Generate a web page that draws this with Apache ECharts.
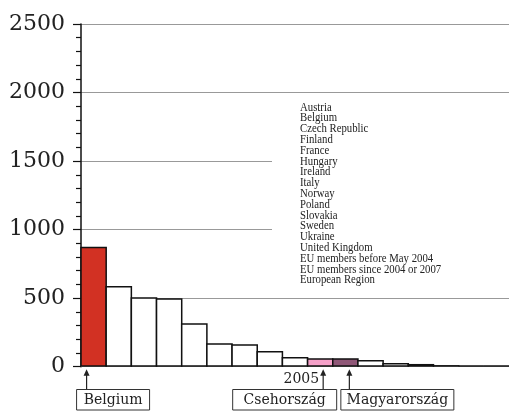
<!DOCTYPE html>
<html>
<head>
<meta charset="utf-8">
<script src="https://cdn.jsdelivr.net/npm/echarts@6/dist/echarts.min.js"></script>
<style>html,body{margin:0;padding:0;background:#fff;}#c{width:509px;height:411px;}</style>
</head>
<body>
<div id="c"></div>
<script>
// Bars in the order shown (sorted by value)
var categories = ['Belgium', 'Austria', 'France', 'Ireland', 'EU members before May 2004',
  'European Region', 'Finland', 'Sweden', 'Italy', 'Czech Republic', 'Hungary',
  'EU members since 2004 or 2007', 'Slovakia', 'Poland', 'United Kingdom', 'Norway', 'Ukraine'];
var values = [875, 588, 506, 499, 317, 171, 163, 114, 71, 62, 62, 49, 27, 20, 12, 10, 10];
var highlight = { 'Belgium': '#d23123', 'Czech Republic': '#f5a0c8', 'Hungary': '#8f5777' };
var legendNames = ['Austria', 'Belgium', 'Czech Republic', 'Finland', 'France', 'Hungary',
  'Ireland', 'Italy', 'Norway', 'Poland', 'Slovakia', 'Sweden', 'Ukraine', 'United Kingdom',
  'EU members before May 2004', 'EU members since 2004 or 2007', 'European Region'];
var yTicks = [0, 500, 1000, 1500, 2000, 2500];
var yearLabel = '2005';
var callouts = [
  { name: 'Belgium', label: 'Belgium', dx: -7 },
  { name: 'Czech Republic', label: 'Csehország', dx: 3 },
  { name: 'Hungary', label: 'Magyarország', dx: 4 }
];

var chart = echarts.init(document.getElementById('c'), null, { renderer: 'canvas' });
var serif = 'DejaVu Serif';
chart.setOption({
  animation: false,
  backgroundColor: '#fff',
  grid: { left: 81, top: 24, width: 430, height: 342.7, containLabel: false },
  xAxis: {
    type: 'category',
    data: categories,
    axisLine: { show: true, lineStyle: { color: '#999', width: 1, type: 'dotted' } },
    axisTick: { show: false },
    axisLabel: { show: false },
    splitLine: { show: false }
  },
  yAxis: {
    type: 'value',
    min: yTicks[0],
    max: yTicks[yTicks.length - 1],
    interval: 500,
    axisLine: { show: true, lineStyle: { color: '#111', width: 1.5 } },
    axisTick: { show: true, length: 8, lineStyle: { color: '#111', width: 1.2 } },
    minorTick: { show: true, splitNumber: 5, length: 5, lineStyle: { color: '#111', width: 1.2 } },
    axisLabel: { margin: 16, fontFamily: serif, fontSize: 22, color: '#222',
      formatter: function (v) { return String(v); } },
    splitLine: { show: true, lineStyle: { color: '#999', width: 1 } }
  },
  series: [{
    type: 'bar',
    barWidth: '106%',
    data: categories.map(function (c, i) {
      return { value: values[i], itemStyle: { color: highlight[c] || '#fff' } };
    }),
    itemStyle: { borderColor: '#111', borderWidth: 1.5 },
    z: 3
  }]
});

function buildGraphics() {
  var els = [];
  // legend list with white background
  els.push({ type: 'rect', shape: { x: 272, y: 100, width: 240, height: 190 },
    style: { fill: '#fff' }, z: 50, silent: true });
  els.push({ type: 'text', x: 300, y: 102, z: 51, silent: true, scaleX: 0.86,
    style: { text: legendNames.join('\n'), fontFamily: 'Liberation Serif', fontSize: 12.5,
      lineHeight: 10.8, fill: '#222', textVerticalAlign: 'top' } });
  var y0 = chart.convertToPixel({ yAxisIndex: 0 }, 0);
  callouts.forEach(function (c, k) {
    var idx = categories.indexOf(c.name);
    var ax = chart.convertToPixel({ xAxisIndex: 0 }, idx) + c.dx;
    els.push({ type: 'line', shape: { x1: ax, y1: y0 + 6, x2: ax, y2: 389 },
      style: { stroke: '#222', lineWidth: 1.2 }, z: 60 });
    els.push({ type: 'polygon', shape: { points: [[ax, y0 + 2.5], [ax - 3, y0 + 9], [ax + 3, y0 + 9]] },
      style: { fill: '#222' }, z: 60 });
  });
  // boxes
  var bx0 = chart.convertToPixel({ xAxisIndex: 0 }, categories.indexOf('Belgium')) - 7;
  var bx1 = chart.convertToPixel({ xAxisIndex: 0 }, categories.indexOf('Czech Republic')) + 3;
  var bx2 = chart.convertToPixel({ xAxisIndex: 0 }, categories.indexOf('Hungary')) + 4;
  var boxes = [
    { x: bx0 - 10, w: 73, t: callouts[0].label },
    { x: bx1 - 90.5, w: 104, t: callouts[1].label },
    { x: bx2 - 8.5, w: 113, t: callouts[2].label }
  ];
  boxes.forEach(function (b) {
    els.push({ type: 'rect', shape: { x: b.x, y: 389.5, width: b.w, height: 20.5 },
      style: { fill: '#fff', stroke: '#333', lineWidth: 1 }, z: 60 });
    els.push({ type: 'text', x: b.x + b.w / 2, y: 400, z: 61,
      style: { text: b.t, fontFamily: serif, fontSize: 14, fill: '#222',
        textAlign: 'center', textVerticalAlign: 'middle' } });
  });
  els.push({ type: 'text', x: bx1 - 4, y: 379, z: 61,
    style: { text: yearLabel, fontFamily: serif, fontSize: 14, fill: '#222',
      textAlign: 'right', textVerticalAlign: 'middle' } });
  chart.setOption({ graphic: { elements: els } });
}
buildGraphics();
</script>
</body>
</html>
